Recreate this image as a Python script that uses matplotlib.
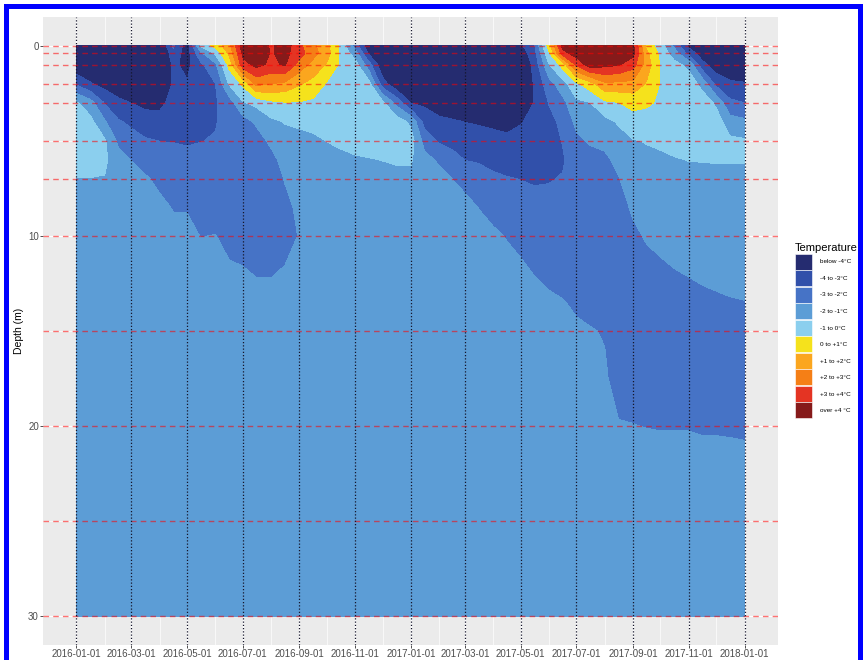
import datetime as dt

import numpy as np
import matplotlib
matplotlib.use("Agg")
import matplotlib.pyplot as plt
import matplotlib.dates as mdates
from matplotlib.patches import Patch, Rectangle

plt.rcParams['font.family'] = ['Liberation Sans', 'DejaVu Sans']

# sample dates: 1st and 16th of every month, Jan 2016 .. Jan 2018 (49 columns)
dates = []
for year in (2016, 2017):
    for month in range(1, 13):
        dates.append(dt.date(year, month, 1))
        dates.append(dt.date(year, month, 16))
dates.append(dt.date(2018, 1, 1))

depths = [0, 0.4, 1, 2, 3, 4, 5, 6, 7, 8.5, 10, 12, 13.5, 15, 17.5, 20, 21.5, 25, 30]

# ground temperature (deg C) per depth
t_0m = [-5.5, -5.6, -5.7, -5.8, -5.8, -5.7, -5.2, -2.8, -4.6, -0.8,
        0.4, 1.6, 4.6, 5.0, 3.8, 4.6, 3.2, 2.2, 1.3, -0.3,
        -2.5, -4.8, -5.5, -5.8, -6.0, -6.0, -6.1, -6.0, -5.9, -5.6,
        -5.0, -4.6, -4.2, -3.1, 0.5, 4.4, 4.8, 5.0, 4.7, 4.6,
        4.2, 0.6, -0.5, -2.2, -4.3, -5.0, -5.6, -6.0, -6.0]
t_0_4m = [-5.5, -5.6, -5.7, -5.8, -5.8, -5.8, -5.4, -3.4, -4.5, -2.2,
          -0.8, 1.2, 4.2, 4.8, 3.9, 4.3, 3.4, 2.4, 1.4, -0.2,
          -1.5, -4.2, -5.3, -5.7, -5.9, -6.0, -6.0, -6.0, -5.9, -5.7,
          -5.3, -5.0, -4.6, -3.4, -0.2, 3.6, 4.5, 4.8, 4.5, 4.6,
          4.3, 1.2, -0.3, -1.5, -3.4, -4.6, -5.4, -5.8, -6.0]
t_1m = [-4.8, -5.1, -5.3, -5.5, -5.6, -5.6, -5.4, -3.8, -4.3, -3.2,
        -2.2, 0.3, 3.6, 4.3, 3.8, 4.1, 2.6, 1.6, 0.9, -0.2,
        -0.6, -2.6, -4.8, -5.3, -5.6, -5.8, -5.9, -5.9, -5.9, -5.8,
        -5.6, -5.3, -5.0, -3.7, -1.05, 0.4, 3.2, 4.6, 4.3, 4.1,
        3.4, 1.5, -0.1, -0.7, -1.3, -3.7, -4.6, -5.0, -5.3]
t_2m = [-3.2, -3.9, -4.4, -4.6, -4.9, -5.0, -4.9, -3.9, -3.9, -3.5,
        -3.02, -0.9, 0.2, 2.3, 2.0, 1.8, 1.1, 0.7, -0.1, -0.3,
        -0.3, -0.7, -3.6, -4.8, -5.0, -5.2, -5.4, -5.5, -5.6, -5.6,
        -5.5, -5.4, -5.1, -3.9, -2.4, -1.4, -0.2, 0.6, 1.8, 1.8,
        1.7, 0.9, -0.05, -0.2, -0.4, -1.4, -3.3, -3.8, -3.9]
t_3m = [-0.9, -1.6, -3.1, -3.8, -4.02, -4.3, -4.3, -3.6, -3.6, -3.4,
        -3.1, -2.5, -1.1, -0.7, -0.2, -0.05, -0.05, -0.2, -0.4, -0.4,
        -0.3, -0.35, -0.8, -2.3, -4.05, -4.2, -4.5, -4.7, -4.9, -5.0,
        -5.0, -5.0, -4.8, -3.95, -2.95, -2.3, -1.2, -1.02, -0.2, -0.02,
        0.3, 0.15, -0.15, -0.2, -0.25, -0.4, -1.2, -2.8, -3.02]
t_4m = [-0.6, -0.7, -1.9, -2.9, -3.2, -3.5, -3.6, -3.4, -3.4, -3.2,
        -3.05, -2.7, -2.4, -1.85, -1.2, -0.95, -0.85, -0.7, -0.7, -0.6,
        -0.45, -0.4, -0.45, -0.5, -1.2, -3.4, -3.8, -3.9, -4.02, -4.1,
        -4.2, -4.3, -4.05, -3.8, -3.3, -2.75, -1.75, -1.35, -1.3, -0.9,
        -0.4, -0.4, -0.45, -0.4, -0.4, -0.4, -0.5, -1.6, -1.8]
t_5m = [-0.5, -0.6, -0.9, -2.2, -2.6, -2.9, -3.02, -3.05, -3.1, -3.02,
        -2.95, -2.75, -2.6, -2.4, -1.8, -1.35, -1.25, -1.2, -0.98, -0.85,
        -0.7, -0.6, -0.55, -0.55, -0.6, -2.4, -3.15, -3.3, -3.5, -3.6,
        -3.7, -3.8, -3.75, -3.6, -3.45, -2.95, -2.2, -1.9, -1.75, -1.35,
        -1.05, -0.95, -0.85, -0.75, -0.7, -0.65, -0.6, -0.8, -0.9]
t_6m = [-0.6, -0.7, -0.8, -1.7, -2.02, -2.3, -2.5, -2.6, -2.75, -2.8,
        -2.8, -2.75, -2.65, -2.55, -2.3, -1.65, -1.45, -1.4, -1.3, -1.2,
        -1.1, -1.05, -0.98, -0.9, -0.9, -1.7, -2.15, -2.7, -3.02, -3.1,
        -3.25, -3.35, -3.4, -3.4, -3.35, -3.1, -2.5, -2.3, -2.2, -1.75,
        -1.35, -1.2, -1.15, -1.05, -0.98, -0.97, -0.95, -0.95, -0.95]
t_7m = [-1.02, -1.02, -1.05, -1.5, -1.7, -1.9, -2.2, -2.3, -2.45, -2.6,
        -2.65, -2.7, -2.65, -2.6, -2.5, -1.95, -1.6, -1.5, -1.45, -1.4,
        -1.35, -1.3, -1.3, -1.25, -1.25, -1.5, -1.7, -2.02, -2.3, -2.6,
        -2.85, -2.95, -3.02, -3.1, -3.05, -2.95, -2.6, -2.5, -2.45, -2.05,
        -1.55, -1.35, -1.3, -1.25, -1.2, -1.2, -1.2, -1.2, -1.2]
t_8_5m = [-1.3, -1.3, -1.3, -1.4, -1.5, -1.6, -1.8, -2.05, -2.05, -2.3,
          -2.35, -2.55, -2.6, -2.6, -2.55, -2.25, -1.8, -1.6, -1.55, -1.5,
          -1.5, -1.45, -1.45, -1.45, -1.45, -1.45, -1.5, -1.65, -1.7, -2.02,
          -2.3, -2.5, -2.6, -2.7, -2.75, -2.8, -2.65, -2.6, -2.6, -2.4,
          -1.85, -1.6, -1.5, -1.45, -1.4, -1.4, -1.4, -1.35, -1.35]
t_10m = [-1.4, -1.4, -1.4, -1.4, -1.4, -1.5, -1.6, -1.75, -1.8, -2.02,
         -1.98, -2.25, -2.4, -2.5, -2.5, -2.35, -1.95, -1.7, -1.6, -1.55,
         -1.55, -1.5, -1.5, -1.5, -1.5, -1.5, -1.5, -1.5, -1.6, -1.7,
         -1.85, -2.05, -2.2, -2.35, -2.5, -2.6, -2.6, -2.6, -2.6, -2.55,
         -2.2, -1.9, -1.75, -1.7, -1.65, -1.6, -1.55, -1.5, -1.5]
t_12m = [-1.5, -1.5, -1.5, -1.5, -1.5, -1.5, -1.5, -1.55, -1.6, -1.7,
         -1.7, -1.85, -1.9, -2.05, -2.05, -1.9, -1.8, -1.65, -1.6, -1.55,
         -1.5, -1.5, -1.5, -1.5, -1.5, -1.5, -1.5, -1.5, -1.5, -1.5,
         -1.6, -1.7, -1.85, -2.02, -2.2, -2.35, -2.4, -2.45, -2.5, -2.55,
         -2.5, -2.35, -2.2, -2.05, -1.97, -1.9, -1.85, -1.8, -1.75]
t_13_5m = ([-1.5] * 9
           + [-1.55, -1.6, -1.6, -1.65, -1.7, -1.7, -1.65, -1.6, -1.55, -1.55]
           + [-1.5] * 12
           + [-1.55, -1.6, -1.7, -1.85, -1.95, -2.15, -2.25, -2.3, -2.45]
           + [-2.5, -2.45, -2.4, -2.35, -2.25, -2.15, -2.1, -2.05, -2.02])
t_15m = ([-1.5] * 34
         + [-1.6, -1.75, -1.85, -1.95, -2.05, -2.35]
         + [-2.45, -2.45, -2.45, -2.45, -2.45, -2.4, -2.35, -2.3, -2.3])
t_17_5m = ([-1.5] * 35
           + [-1.55, -1.6, -1.7, -1.9, -2.3]
           + [-2.35] + [-2.4] * 8)
t_20m = ([-1.5] * 37
         + [-1.6, -1.8, -1.95]
         + [-1.98, -2.02, -2.05, -2.05, -2.05, -2.1, -2.1, -2.1, -2.15])
t_21_5m = ([-1.5] * 38 + [-1.6, -1.7]
           + [-1.75] * 5 + [-1.8, -1.8, -1.85, -1.85])
t_25m = [-1.5] * 49
t_30m = [-1.5] * 49

temps = np.array([t_0m, t_0_4m, t_1m, t_2m, t_3m, t_4m, t_5m, t_6m, t_7m,
                  t_8_5m, t_10m, t_12m, t_13_5m, t_15m, t_17_5m, t_20m,
                  t_21_5m, t_25m, t_30m])

levels = [-100, -4, -3, -2, -1, 0, 1, 2, 3, 4, 100]
class_colors = ['#252c70', '#3150aa', '#4673c6', '#5c9dd6', '#8bcfee',
                '#f5e21c', '#fba61e', '#f57f16', '#e43423', '#861a1a']
class_labels = ['below -4°C', '-4 to -3°C', '-3 to -2°C', '-2 to -1°C',
                '-1 to 0°C', '0 to +1°C', '+1 to +2°C', '+2 to +3°C',
                '+3 to +4°C', 'over +4 °C']

sensor_depths = [0, 0.4, 1, 2, 3, 5, 7, 10, 15, 20, 25, 30]
tick_dates = [dt.date(2016 + (m // 12), m % 12 + 1, 1) for m in range(0, 25, 2)]

fig = plt.figure(figsize=(8.65, 6.6), dpi=100)
ax = fig.add_axes([43 / 865, 15 / 660, 735 / 865, 628 / 660])
ax.set_facecolor('#EBEBEB')

x = mdates.date2num(dates)
ax.contourf(x, depths, temps, levels=levels, colors=class_colors, zorder=2)

span = x[-1] - x[0]
ax.set_xlim(x[0] - 0.05 * span, x[-1] + 0.05 * span)
ax.set_ylim(31.5, -1.5)

# background grid like ggplot (only shows in the margins)
ax.set_axisbelow(True)
ax.grid(True, which='major', color='white', lw=0.9, zorder=0)
ax.set_yticks([5, 15, 25], minor=True)
ax.set_xticks(mdates.date2num([dt.date(2016 + (m // 12), m % 12 + 1, 1)
                               for m in range(1, 25, 2)]), minor=True)
ax.grid(True, which='minor', color='white', lw=0.5, zorder=0)
ax.tick_params(which='minor', length=0)

for d in sensor_depths:
    ax.axhline(d, color='red', alpha=0.55, lw=1.0, dashes=(4, 3), zorder=4)
for t in tick_dates:
    ax.axvline(mdates.date2num(t), color='#15152a', lw=0.9,
               ls=(0, (1, 1.6)), zorder=4)

ax.set_xticks(mdates.date2num(tick_dates))
ax.set_xticklabels([t.strftime('%Y-%m-%d') for t in tick_dates])
ax.set_yticks([0, 10, 20, 30])
ax.tick_params(which='major', length=2.2, width=0.6, color='#333333',
               labelsize=7, labelcolor='#4D4D4D', pad=0.8)
for s in ax.spines.values():
    s.set_visible(False)

ax.set_ylabel('Depth (m)', fontsize=7.5)
ax.yaxis.set_label_coords(-19 / 735, 0.5)

handles = [Patch(facecolor=c, edgecolor='white', linewidth=0.4) for c in class_colors]
leg = fig.legend(handles, class_labels, loc='upper left',
                 bbox_to_anchor=(795 / 865, 1 - 243 / 660), frameon=False,
                 fontsize=4.6, title='Temperature', title_fontsize=8,
                 handlelength=2.6, handleheight=3.45, labelspacing=0.1,
                 handletextpad=1.3, borderpad=0, borderaxespad=0,
                 alignment='left')

# blue frame round the picture
fig.add_artist(Rectangle((5.5 / 865, -0.05), (860 - 5.5) / 865, 1.05 - 5.5 / 660,
                         transform=fig.transFigure, fill=False,
                         edgecolor='#0000ff', linewidth=3.6))

fig.savefig('out.png', dpi=100)
